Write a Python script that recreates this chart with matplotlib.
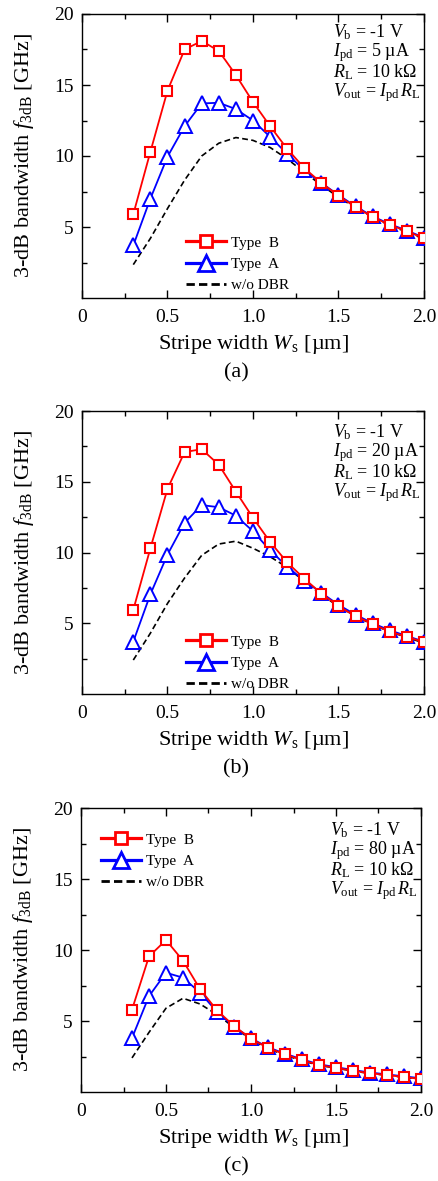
import matplotlib
matplotlib.use("Agg")
import matplotlib.pyplot as plt
from matplotlib.lines import Line2D

plt.rcParams["font.family"] = ["Liberation Serif", "DejaVu Serif"]
plt.rcParams["mathtext.fontset"] = "custom"
plt.rcParams["mathtext.rm"] = "Liberation Serif"
plt.rcParams["mathtext.it"] = "Liberation Serif:italic"
plt.rcParams["mathtext.bf"] = "Liberation Serif:bold"

# stripe width Ws [um]
ws = [0.3, 0.4, 0.5, 0.6, 0.7, 0.8, 0.9, 1.0, 1.1, 1.2,
      1.3, 1.4, 1.5, 1.6, 1.7, 1.8, 1.9, 2.0]

# (a) Ipd = 5 uA
type_b_a = [5.9, 10.3, 14.6, 17.5, 18.1, 17.4, 15.7, 13.8, 12.1, 10.5,
            9.15, 8.1, 7.2, 6.4, 5.7, 5.15, 4.7, 4.2]
type_a_a = [3.7, 7.0, 9.95, 12.1, 13.7, 13.75, 13.3, 12.5, 11.35, 10.15,
            9.0, 8.1, 7.25, 6.45, 5.75, 5.2, 4.75, 4.25]
wo_dbr_a = [2.35, 4.2, 6.3, 8.3, 10.0, 10.9, 11.3, 11.1, 10.6, 9.8,
            8.85, 7.95, 7.1, 6.35, 5.7, 5.1, 4.65, 4.15]

# (b) Ipd = 20 uA
type_b_b = [5.95, 10.3, 14.5, 17.1, 17.3, 16.2, 14.3, 12.45, 10.75, 9.3,
            8.15, 7.1, 6.2, 5.5, 4.95, 4.4, 4.05, 3.65]
type_a_b = [3.7, 7.05, 9.85, 12.1, 13.35, 13.2, 12.6, 11.5, 10.15, 9.0,
            8.0, 7.15, 6.3, 5.6, 5.0, 4.5, 4.1, 3.7]
wo_dbr_b = [2.4, 4.3, 6.4, 8.2, 9.8, 10.6, 10.8, 10.3, 9.7, 8.95,
            7.95, 7.0, 6.2, 5.5, 4.9, 4.4, 4.0, 3.6]

# (c) Ipd = 80 uA
type_b_c = [5.8, 9.55, 10.7, 9.25, 7.25, 5.75, 4.65, 3.75, 3.1, 2.65,
            2.25, 1.9, 1.7, 1.5, 1.32, 1.2, 1.05, 0.92]
type_a_c = [3.8, 6.75, 8.4, 8.05, 7.0, 5.65, 4.6, 3.78, 3.15, 2.7,
            2.3, 1.95, 1.75, 1.55, 1.37, 1.24, 1.1, 0.97]
wo_dbr_c = [2.4, 4.2, 5.9, 6.6, 6.2, 5.45, 4.55, 3.7, 3.05, 2.6,
            2.2, 1.88, 1.68, 1.48, 1.3, 1.18, 1.03, 0.9]

currents = ["5", "20", "80"]
panel_names = ["(a)", "(b)", "(c)"]
x_ticks = [0, 0.5, 1.0, 1.5, 2.0]
x_labels = ["0", "0.5", "1.0", "1.5", "2.0"]
y_ticks = [5, 10, 15, 20]

W, H = 439, 1181
fig = plt.figure(figsize=(W / 100, H / 100), dpi=100)


def fx(px):
    return px / W


def fy(py):
    return 1 - py / H


# pixel boxes: left, right, top, bottom
boxes = [(82, 424, 14, 298), (82, 424, 411, 694), (81, 421, 808, 1092)]
legend_pos = [(186, 236), (186, 635), (101, 833)]
note_pos = [(333, 22), (333, 422), (330, 820)]

panels = [
    (type_b_a, type_a_a, wo_dbr_a),
    (type_b_b, type_a_b, wo_dbr_b),
    (type_b_c, type_a_c, wo_dbr_c),
]

for i, (tb, ta, wo) in enumerate(panels):
    l, r, t, b = boxes[i]
    ax = fig.add_axes([fx(l), fy(b), (r - l) / W, (b - t) / H])

    ax.plot(ws, wo, color="black", ls=(0, (3.5, 2)), lw=1.2, zorder=2)
    ax.plot(ws, ta, color="blue", lw=1.3, marker="^", ms=9.5, mfc="white",
            mec="blue", mew=1.4, zorder=3)
    ax.plot(ws, tb, color="red", lw=1.3, marker="s", ms=7.5, mfc="white",
            mec="red", mew=1.5, zorder=4)

    ax.set_xlim(0, 2.0)
    ax.set_ylim(0, 20)
    ax.set_xticks(x_ticks)
    ax.set_xticklabels(x_labels)
    ax.set_xticks([0.25, 0.75, 1.25, 1.75], minor=True)
    ax.set_yticks(y_ticks)
    ax.set_yticks([2.5, 7.5, 12.5, 17.5], minor=True)
    ax.tick_params(which="both", direction="in", top=True, right=True,
                   labelsize=14, width=1)
    ax.tick_params(which="major", length=6, pad=6)
    ax.tick_params(axis="x", which="major", pad=8)
    ax.tick_params(which="minor", length=3.5)
    for s in ax.spines.values():
        s.set_linewidth(1)

    ax.set_ylabel(r"3-dB bandwidth $f_{\rm 3dB}$ [GHz]", fontsize=16, labelpad=13)

    handles = [
        Line2D([], [], color="red", lw=2.3, marker="s", ms=9, mfc="white", mew=2),
        Line2D([], [], color="blue", lw=2.3, marker="^", ms=11, mfc="white", mew=2),
        Line2D([], [], color="black", lw=2, ls=(0, (3, 1.5))),
    ]
    lx, ly = legend_pos[i]
    ax.legend(handles, ["Type  B", "Type  A", "w/o DBR"], loc="upper left",
              bbox_to_anchor=(fx(lx), fy(ly)), bbox_transform=fig.transFigure,
              frameon=False, fontsize=11, borderpad=0, borderaxespad=0,
              handlelength=2.6, handletextpad=0.35, labelspacing=0.5,
              numpoints=1)

    nx, ny = note_pos[i]
    notes = "\n".join([
        r"$V_{\rm b}$ = -1 V",
        r"$I_{\rm pd}$ = " + currents[i] + " µA",
        r"$R_{\rm L}$ = 10 kΩ",
        r"$V_{\rm out}$ = $I_{\rm pd}\,R_{\rm L}$",
    ])
    fig.text(fx(nx), fy(ny), notes, fontsize=13, va="top", ha="left",
             linespacing=0.93)

    fig.text(fx(253), fy(b + 47), r"Stripe width $W_{\rm s}$ [µm]",
             fontsize=16, ha="center", va="center")
    fig.text(fx(236), fy(b + 75), panel_names[i], fontsize=16,
             ha="center", va="center")

fig.savefig("out.png", dpi=100)
